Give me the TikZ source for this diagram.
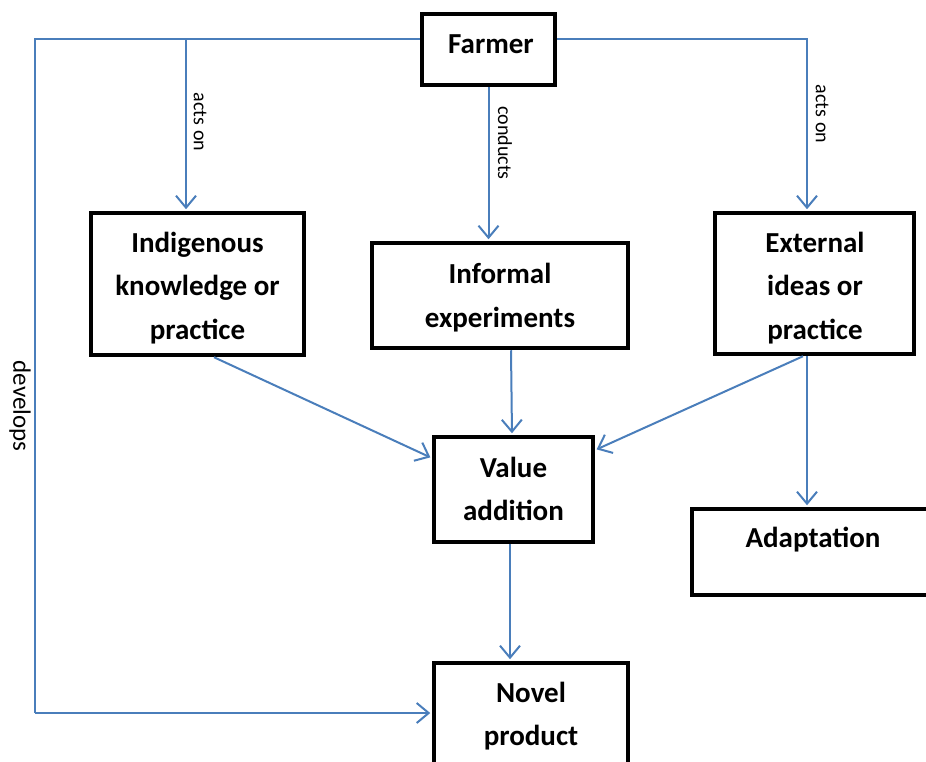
\documentclass[tikz,border=0pt]{standalone}
\usepackage{fontspec}
\setmainfont{Carlito}
\usetikzlibrary{arrows.meta}
\definecolor{linkblue}{HTML}{4A7EBB}
\begin{document}
\begin{tikzpicture}[x=1pt,y=-1pt,
  box/.style={draw=black, line width=4.5pt, inner sep=0pt},
  boxtext/.style={font=\fontsize{29}{43.5}\selectfont\bfseries, align=center, inner sep=0pt},
  conn/.style={draw=linkblue, line width=2pt},
  arr/.style={conn, -{Straight Barb[length=12pt,width=20pt]}, shorten >=1.5pt},
  edgelbl/.style={font=\fontsize{20}{24}\selectfont, rotate=-90, inner sep=0pt}]
\clip (0,0) rectangle (926,762);
\useasboundingbox (0,0) rectangle (926,762);

% boxes
\node[box, minimum width=133pt, minimum height=71pt] (farmer) at (488.5,49.5) {};
\node[box, minimum width=213pt, minimum height=142pt] (indig) at (197.5,284) {};
\node[box, minimum width=256pt, minimum height=105pt] (informal) at (500,295.5) {};
\node[box, minimum width=199pt, minimum height=141pt] (ext) at (814.5,283.5) {};
\node[box, minimum width=159pt, minimum height=105pt] (value) at (513.5,489.5) {};
\node[box, minimum width=248pt, minimum height=86pt] (adapt) at (816,552) {};
\node[box, minimum width=194pt, minimum height=137pt] (novel) at (531,731.5) {};

% box texts
\node[boxtext] (farmerT) at (491,44) {Farmer};
\node[boxtext] (indigT) at (197.5,288) {Indigenous\\knowledge or\\practice};
\node[boxtext] (informalT) at (500,297.5) {Informal\\experiments};
\node[boxtext] (extT) at (815,288) {External\\ideas or\\practice};
\node[boxtext] (valueT) at (513.5,489) {Value\\addition};
\node[boxtext] (adaptT) at (813,540) {Adaptation};
\node[boxtext] (novelT) at (531,716) {Novel\\product};

% routing points
\coordinate (lc) at (35,39);
\coordinate (ld) at (35,713);
\coordinate (lb) at (186,39);
\coordinate (rc) at (807,39);

% connectors
\draw[conn] ([yshift=10.5pt]farmer.west) -- (lc) -- (ld);
\draw[arr] (ld) -- (ld -| novel.west);
\draw[arr] (lb) -- (lb |- indig.north);
\draw[arr] ([yshift=10.5pt]farmer.east) -- (rc) -- (rc |- ext.north);
\draw[arr] (farmer.south) -- (farmer.south |- informal.north);
\draw[arr] ([xshift=16.5pt]indig.south) -- ([yshift=31.5pt]value.west);
\draw[arr] ([xshift=11pt]informal.south) -- ([xshift=-1.5pt]value.north);
\draw[arr] ([xshift=-11.5pt]ext.south) -- ([yshift=39.5pt]value.east);
\draw[arr] ([xshift=-7.5pt]ext.south) -- ([xshift=-7.5pt]ext.south |- adapt.north);
\draw[arr] ([xshift=-3.5pt]value.south) -- ([xshift=-3.5pt]value.south |- novel.north);

% connector labels
\node[edgelbl] (lblL) at (200,122) {acts on};
\node[edgelbl] (lblM) at (505,143) {conducts};
\node[edgelbl] (lblR) at (822,114) {acts on};
\node[edgelbl, font=\fontsize{25}{30}\selectfont] (lblD) at (20,406) {develops};
\end{tikzpicture}
\end{document}
